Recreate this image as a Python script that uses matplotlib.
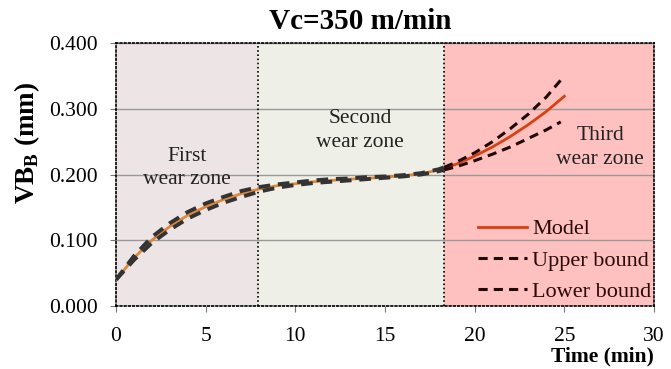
import matplotlib.pyplot as plt
import numpy as np

plt.rcParams['font.family'] = ['Liberation Serif', 'DejaVu Serif']
plt.rcParams['mathtext.fontset'] = 'custom'
plt.rcParams['mathtext.rm'] = 'Liberation Serif'
plt.rcParams['mathtext.bf'] = 'Liberation Serif:bold'

# zone limits (min)
zone_edges = [0, 7.9, 18.3, 30]
zone_colors = ['#ede5e5', '#eef0e8', '#ffc0c0']
zone_labels = ['First\nwear zone', 'Second\nwear zone', 'Third\nwear zone']

# first and second zones: model and bounds nearly overlap
t_a = [0, 1, 2, 3, 4, 5, 6, 7, 8, 9, 10, 11, 12, 13, 14, 15, 16, 17, 18, 18.3]
model_a = [0.040, 0.073, 0.100, 0.121, 0.138, 0.151, 0.162, 0.171, 0.178, 0.183,
           0.186, 0.189, 0.191, 0.193, 0.194, 0.196, 0.198, 0.201, 0.207, 0.209]
upper_a = [0.040, 0.076, 0.105, 0.126, 0.143, 0.156, 0.166, 0.175, 0.181, 0.185,
           0.188, 0.191, 0.193, 0.194, 0.196, 0.197, 0.199, 0.202, 0.208, 0.211]
lower_a = [0.040, 0.070, 0.096, 0.116, 0.133, 0.146, 0.157, 0.166, 0.174, 0.180,
           0.184, 0.187, 0.189, 0.191, 0.193, 0.195, 0.197, 0.200, 0.205, 0.207]

# third zone
t_b = [18.3, 19, 20, 21, 22, 23, 24, 25]
model_b = [0.209, 0.216, 0.228, 0.242, 0.258, 0.276, 0.296, 0.319]
upper_b = [0.211, 0.219, 0.233, 0.250, 0.270, 0.292, 0.318, 0.350]
t_lb = [18.3, 19, 20, 21, 22, 23, 24, 24.8]
lower_b = [0.207, 0.212, 0.221, 0.231, 0.242, 0.255, 0.268, 0.280]

fig = plt.figure(figsize=(6.71, 3.69), dpi=100)
ax = fig.add_axes([0.1729, 0.1707, 0.8018, 0.7128])

for i in range(3):
    ax.axvspan(zone_edges[i], zone_edges[i + 1], color=zone_colors[i], zorder=0, lw=0)
for x in zone_edges[1:3]:
    ax.axvline(x, color='black', ls=(0, (1, 1.5)), lw=1.2, zorder=2)

ax.set_xlim(0, 30)
ax.set_ylim(0, 0.4)
ax.set_xticks([0, 5, 10, 15, 20, 25, 30])
ax.set_yticks([0, 0.1, 0.2, 0.3, 0.4])
ax.set_yticklabels(['%.3f' % v for v in [0, 0.1, 0.2, 0.3, 0.4]])
ax.grid(axis='y', color='#999999', lw=1, zorder=1)
ax.tick_params(labelsize=15.5, direction='out', length=4, color='#777777')
ax.tick_params(axis='x', pad=11)
ax.tick_params(axis='y', pad=9)

for side in ['left', 'bottom', 'top', 'right']:
    ax.spines[side].set_linestyle((0, (1, 1.5)))
    ax.spines[side].set_linewidth(1.2)

# zones 1-2
ax.plot(t_a, model_a, color='#e0883a', lw=2, zorder=3)
ax.plot(t_a, upper_a, color='#333333', lw=2.8, ls=(0, (3, 2)), zorder=4)
ax.plot(t_a, lower_a, color='#333333', lw=2.8, ls=(0, (3, 2)), zorder=4)

# zone 3
ax.plot(t_b, model_b, color='#d9400f', lw=2, zorder=3, label='Model')
ax.plot(t_b, upper_b, color='#200808', lw=2.2, ls=(0, (3, 2)), zorder=4, label='Upper bound')
ax.plot(t_lb, lower_b, color='#200808', lw=2.2, ls=(0, (3, 2)), zorder=4, label='Lower bound')

ax.text(3.96, 0.210, zone_labels[0], ha='center', va='center', fontsize=15.5, color='#222222', linespacing=1.3)
ax.text(13.6, 0.267, zone_labels[1], ha='center', va='center', fontsize=15.5, color='#222222', linespacing=1.3)
ax.text(27.0, 0.241, zone_labels[2], ha='center', va='center', fontsize=15.5, color='#222222', linespacing=1.3)

leg = ax.legend(loc='lower right', frameon=False, fontsize=16, handlelength=2.2,
                handletextpad=0.25, borderaxespad=0.0, labelspacing=0.48,
                bbox_to_anchor=(1.012, -0.018))
for txt in leg.get_texts():
    txt.set_color('#2a0a0a')

ax.set_title('Vc=350 m/min', fontsize=21, fontweight='bold', x=0.4535, pad=10)
ax.set_ylabel(r'VB$_\mathbf{B}$ (mm)', fontsize=19.5, fontweight='bold')
ax.yaxis.set_label_coords(-0.137, 0.62)
ax.set_xlabel('Time (min)', fontsize=15.5, fontweight='bold')
ax.xaxis.set_label_coords(1.0, -0.152)
ax.xaxis.label.set_ha('right')
ax.xaxis.label.set_va('top')

fig.savefig('out.png', dpi=100)
